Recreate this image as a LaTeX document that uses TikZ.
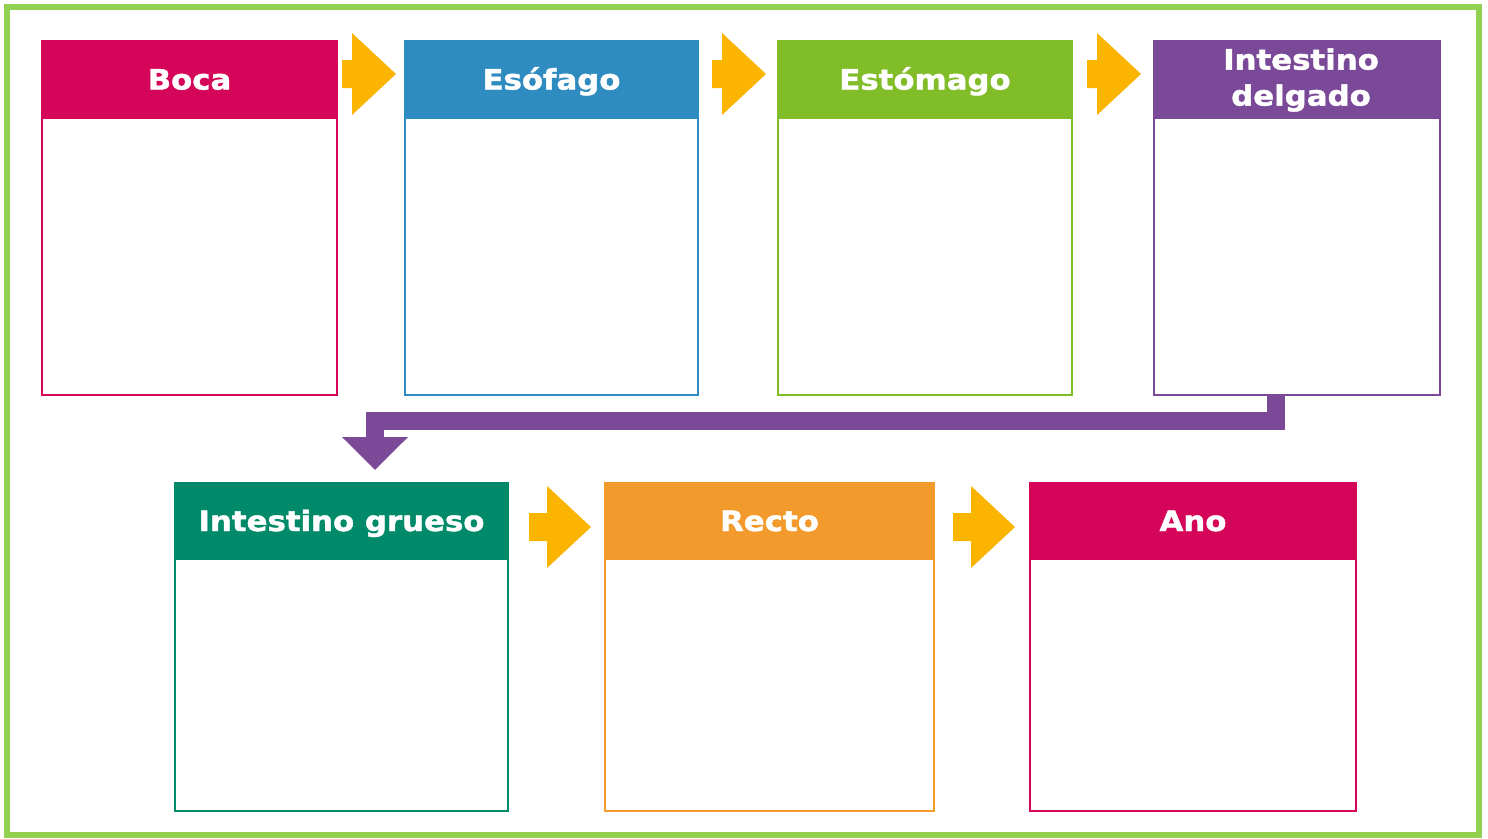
\documentclass[tikz,border=0pt]{standalone}
\usepackage{fontspec}
\setmainfont{DejaVu Sans}
\newfontfamily\hdfont{DejaVu Sans Bold}[FakeStretch=1.1, FakeBold=1.6]
\usetikzlibrary{arrows.meta}
\definecolor{cBoca}{HTML}{D50659}
\definecolor{cEso}{HTML}{2E8CC1}
\definecolor{cEst}{HTML}{81BC29}
\definecolor{cIdel}{HTML}{7A4A99}
\definecolor{cIgr}{HTML}{008A69}
\definecolor{cRec}{HTML}{F39A2C}
\definecolor{cYel}{HTML}{FBB400}
\definecolor{cFrame}{HTML}{92D050}
\newcommand\blockarrow[3]{%
  \fill[cYel] (#1,#3-14) -- (#1+#2,#3-14) -- (#1+#2,#3-41) -- (#1+#2+44,#3)
    -- (#1+#2,#3+41) -- (#1+#2,#3+14) -- (#1,#3+14) -- cycle;}
\begin{document}
\begin{tikzpicture}[x=1pt,y=-1pt,
  organ/.style={draw=#1, line width=1.5pt, fill=white, rectangle, inner sep=0pt},
  header/.style={fill=#1, draw=#1, line width=1pt, rectangle, inner sep=0pt,
    text=white, font=\hdfont\fontsize{28}{36}\selectfont,
    text height=20pt, text depth=0pt},
  htext/.style={text=white, font=\hdfont\fontsize{28}{36}\selectfont,
    align=center, inner sep=0pt}]
\useasboundingbox (0,0) rectangle (1488,838);
\fill[white] (0,0) rectangle (1488,838);
\draw[cFrame, line width=6pt] (7,7) rectangle (1479,835);

% row 1
\node[organ=cBoca, minimum width=295pt, minimum height=354pt] (boca) at (189.5,218) {};
\node[header=cBoca, minimum width=295pt, minimum height=77pt] (bocah) at (189.5,79.5) {Boca};
\node[organ=cEso, minimum width=293pt, minimum height=354pt] (eso) at (551.5,218) {};
\node[header=cEso, minimum width=293pt, minimum height=77pt] (esoh) at (551.5,79.5) {Esófago};
\node[organ=cEst, minimum width=294pt, minimum height=354pt] (est) at (925,218) {};
\node[header=cEst, minimum width=294pt, minimum height=77pt] (esth) at (925,79.5) {Estómago};
\node[organ=cIdel, minimum width=286pt, minimum height=354pt] (idel) at (1297,218) {};
\node[header=cIdel, minimum width=286pt, minimum height=77pt] (idelh) at (1297,79.5) {};
\node[htext] (idelt) at (1301,80) {Intestino\\delgado};

% row 2
\node[organ=cIgr, minimum width=333pt, minimum height=328pt] (igr) at (341.5,647) {};
\node[header=cIgr, minimum width=333pt, minimum height=76pt] (igrh) at (341.5,521) {Intestino grueso};
\node[organ=cRec, minimum width=329pt, minimum height=328pt] (rec) at (769.5,647) {};
\node[header=cRec, minimum width=329pt, minimum height=76pt] (rech) at (769.5,521) {Recto};
\node[organ=cBoca, minimum width=326pt, minimum height=328pt] (ano) at (1193,647) {};
\node[header=cBoca, minimum width=326pt, minimum height=76pt] (anoh) at (1193,521) {Ano};

% yellow arrows
\blockarrow{342}{10}{74}
\blockarrow{712}{10}{74}
\blockarrow{1087}{10}{74}
\blockarrow{529}{18}{527}
\blockarrow{953}{18}{527}

% purple connector
\coordinate (turn) at (375,421);
\coordinate (tipend) at (375,470);
\draw[cIdel, line width=18pt, line join=miter, -{Triangle[width=64pt,length=33pt]}]
  ([xshift=-21pt]idel.south) |- (turn) -- (tipend);
\end{tikzpicture}
\end{document}
